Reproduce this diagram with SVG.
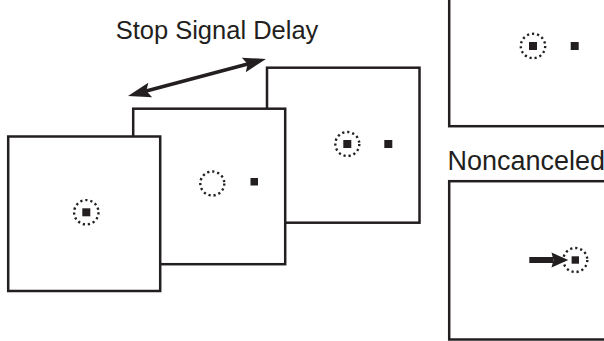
<svg xmlns="http://www.w3.org/2000/svg" width="604" height="341" viewBox="0 0 604 341">
  <style>
    .frame { fill: #ffffff; stroke: #231f20; stroke-width: 2.5; }
    .dots { fill: none; stroke: #231f20; stroke-width: 2.4; stroke-dasharray: 2.2 2.9; }
    .sq { fill: #231f20; }
    .lbl { font-family: "Liberation Sans", Arial, sans-serif; fill: #231f20; }
    .arr { stroke: #231f20; stroke-width: 3.6; fill: none; }
  </style>
  <defs>
    <marker id="head" viewBox="-10 -10 30 20" refX="0" refY="0" markerWidth="30" markerHeight="20" markerUnits="userSpaceOnUse" orient="auto-start-reverse" overflow="visible">
      <path d="M16,0 L-7,-7.5 L-3,0 L-7,7.5 Z" fill="#231f20"/>
    </marker>
  </defs>
  <rect width="604" height="341" fill="#ffffff"/>

  <text class="lbl" x="217" y="38.5" font-size="25.5" text-anchor="middle">Stop Signal Delay</text>

  <g id="frame3">
    <rect class="frame" x="267" y="67.7" width="152.5" height="155"/>
    <circle class="dots" cx="347.3" cy="144" r="12"/>
    <rect class="sq" x="343.3" y="140" width="8" height="8"/>
    <rect class="sq" x="384.3" y="140" width="8" height="8"/>
  </g>
  <g id="frame2">
    <rect class="frame" x="133.2" y="108.7" width="152" height="155.5"/>
    <circle class="dots" cx="212.3" cy="183.5" r="12"/>
    <rect class="sq" x="250.5" y="178" width="7.5" height="7.5"/>
  </g>
  <g id="frame1">
    <rect class="frame" x="8.2" y="136.5" width="152" height="154.5"/>
    <circle class="dots" cx="86.3" cy="212.3" r="12.2"/>
    <rect class="sq" x="82.3" y="208.3" width="8" height="8"/>
  </g>

  <g id="canceled-panel">
    <rect class="frame" x="449.2" y="-10" width="200" height="136.2"/>
    <circle class="dots" cx="533" cy="46" r="12.2"/>
    <rect class="sq" x="529" y="42" width="8" height="8"/>
    <rect class="sq" x="570.7" y="42" width="8" height="8"/>
  </g>

  <text class="lbl" x="447.5" y="170" font-size="27">Noncanceled</text>

  <g id="noncanceled-panel">
    <rect class="frame" x="449.2" y="181.2" width="200" height="158.3"/>
    <circle class="dots" cx="575.3" cy="260" r="12"/>
    <rect class="sq" x="571.6" y="256.3" width="7.4" height="7.4"/>
    <rect class="sq" x="529.3" y="257" width="24" height="6"/>
    <path class="sq" d="M568.3,260 L551.5,252.6 L553.5,260 L551.5,267.4 Z"/>
  </g>

  <g id="connectors">
    <line class="arr" x1="143.45" y1="91.86" x2="250.55" y2="63.14" marker-start="url(#head)" marker-end="url(#head)"/>
  </g>
</svg>
